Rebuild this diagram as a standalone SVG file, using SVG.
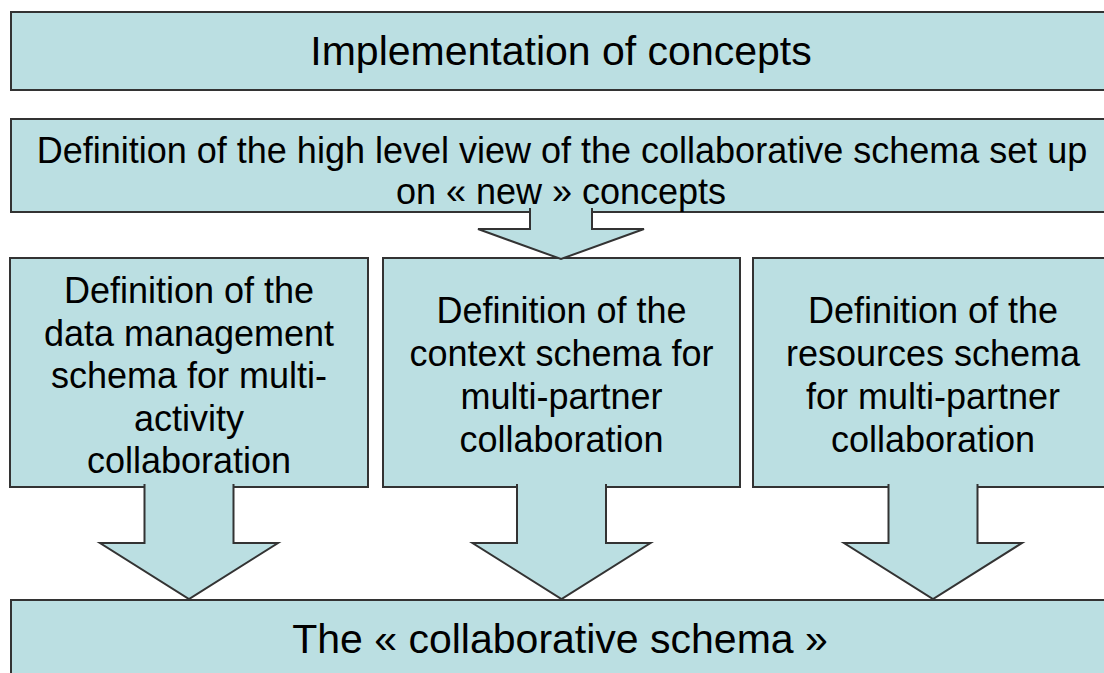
<svg xmlns="http://www.w3.org/2000/svg" width="1104" height="673" viewBox="0 0 1104 673">
<style>
.box{fill:#bbdfe2;stroke:#333;stroke-width:2}
.arr{fill:#bbdfe2;stroke:#333;stroke-width:2;stroke-linejoin:miter}
text{font-family:"Liberation Sans",Arial,sans-serif;fill:#000;text-anchor:middle}
.big{font-size:41px}
.mid{font-size:36px}
</style>
<rect width="1104" height="673" fill="#fff"/>
<g id="implementation">
<rect class="box" x="11" y="12" width="1110" height="78"/>
<text class="big" x="561" y="65">Implementation of concepts</text>
</g>
<g id="highlevel">
<rect class="box" x="11" y="119" width="1110" height="93"/>
<text class="mid" x="562" y="163">Definition of the high level view of the collaborative schema set up</text>
<text class="mid" x="561" y="204">on « new » concepts</text>
</g>
<g id="datamgmt">
<rect class="box" x="10" y="258" width="358" height="229"/>
<text class="mid" x="189" y="303">Definition of the</text>
<text class="mid" x="189" y="345.5">data management</text>
<text class="mid" x="189" y="388">schema for multi-</text>
<text class="mid" x="189" y="430.5">activity</text>
<text class="mid" x="189" y="473">collaboration</text>
</g>
<g id="context">
<rect class="box" x="383" y="258" width="357" height="229"/>
<text class="mid" x="561.5" y="323">Definition of the</text>
<text class="mid" x="561.5" y="366">context schema for</text>
<text class="mid" x="561.5" y="409">multi-partner</text>
<text class="mid" x="561.5" y="452">collaboration</text>
</g>
<g id="resources">
<rect class="box" x="753" y="258" width="368" height="229"/>
<text class="mid" x="933" y="323">Definition of the</text>
<text class="mid" x="933" y="366">resources schema</text>
<text class="mid" x="933" y="409">for multi-partner</text>
<text class="mid" x="933" y="452">collaboration</text>
</g>
<g id="collabschema">
<rect class="box" x="11" y="600" width="1110" height="90"/>
<text class="big" x="560" y="653">The « collaborative schema »</text>
</g>
<g id="connectors">
<path class="arr" d="M530,208 V229 H478 L561,259 L644,229 H592 V208"/>
<path class="arr" d="M144.5,484 V543 H100 L189,599 L278,543 H233.5 V484"/>
<path class="arr" d="M517,484 V543 H472.5 L561.5,599 L650.5,543 H606 V484"/>
<path class="arr" d="M888.5,484 V543 H844 L933,599 L1022,543 H977.5 V484"/>
</g>
</svg>
